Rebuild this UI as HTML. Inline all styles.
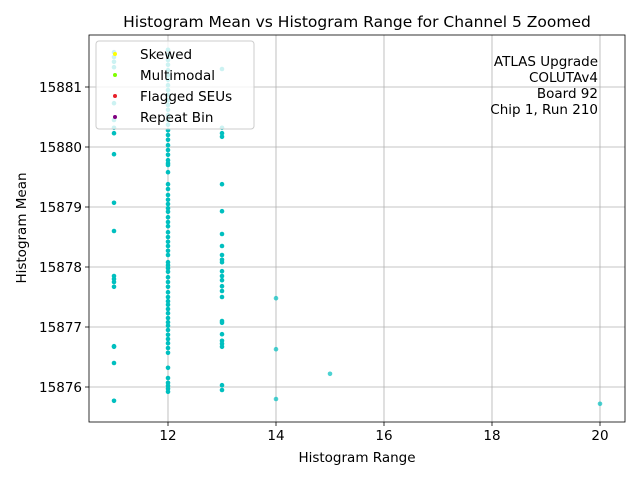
<!DOCTYPE html>
<html><head><meta charset="utf-8"><style>
body{margin:0;background:#fff;font-family:"Liberation Sans","DejaVu Sans",sans-serif}
svg text{font-family:"DejaVu Sans","Liberation Sans",sans-serif}
</style></head><body>
<svg id="c" width="640" height="480" xmlns="http://www.w3.org/2000/svg"></svg>
<script>
const xRange11=[15881.58,15881.50,15881.42,15881.33,15880.73,15880.45,15880.32,15880.23,15879.88,15879.07,15878.60,15877.85,15877.80,15877.75,15877.67,15876.68,15876.67,15876.40,15875.77];
const xRange12=[15881.62,15881.53,15881.45,15881.37,15881.28,15881.20,15881.12,15881.03,15880.95,15880.87,15880.78,15880.70,15880.62,15880.53,15880.45,15880.37,15880.28,15880.20,15880.12,15880.03,15879.95,15879.87,15879.78,15879.73,15879.70,15879.58,15879.38,15879.30,15879.20,15879.12,15879.05,15878.98,15878.92,15878.83,15878.75,15878.68,15878.58,15878.50,15878.42,15878.35,15878.27,15878.20,15878.08,15878.03,15877.98,15877.92,15877.83,15877.75,15877.67,15877.58,15877.50,15877.43,15877.37,15877.30,15877.23,15877.15,15877.08,15877.02,15876.95,15876.87,15876.80,15876.73,15876.65,15876.57,15876.32,15876.15,15876.07,15876.02,15875.97,15875.92];
const xRange13=[15881.30,15880.32,15880.23,15880.17,15879.38,15878.93,15878.55,15878.35,15878.20,15878.12,15878.08,15877.93,15877.85,15877.78,15877.68,15877.60,15877.50,15877.10,15877.07,15876.88,15876.77,15876.72,15876.67,15876.03,15875.95];
const xRange14=[15877.48,15876.63,15875.80];
const xRange15=[15876.22];
const xRange20=[15875.72];
const groups=[[11,xRange11],[12,xRange12],[13,xRange13],[14,xRange14],[15,xRange15],[20,xRange20]];
const xTicks=[12,14,16,18,20];
const yTicks=[15876,15877,15878,15879,15880,15881];
const legendLabels=["Skewed","Multimodal","Flagged SEUs","Repeat Bin"];
const legendColors=["#ffff00","#7fff00","#e8202a","#800080"];
const annotation=["ATLAS Upgrade","COLUTAv4","Board 92","Chip 1, Run 210"];

const L=89,R=625,T=35,B=422;
const sx=v=>168+(v-12)*54;
const sy=v=>87-(v-15881)*60;
const svg=document.getElementById('c');
const NS='http://www.w3.org/2000/svg';
function mk(t,a,p){const e=document.createElementNS(NS,t);for(const k in a)e.setAttribute(k,a[k]);(p||svg).appendChild(e);return e;}

xTicks.forEach(v=>{
 const g=mk('line',{x1:sx(v),x2:sx(v),y1:T,y2:B,stroke:'#b0b0b0','stroke-width':0.8});
 
 
 mk('line',{x1:sx(v),x2:sx(v),y1:B,y2:B+4,stroke:'#000','stroke-width':0.8});
 const t=mk('text',{x:sx(v),y:B+18,'text-anchor':'middle','font-size':13.5});
 t.textContent=v;
 
 
});
yTicks.forEach(v=>{
 const g=mk('line',{x1:L,x2:R,y1:sy(v),y2:sy(v),stroke:'#b0b0b0','stroke-width':0.8});
 
 
 mk('line',{x1:L-4,x2:L,y1:sy(v),y2:sy(v),stroke:'#000','stroke-width':0.8});
 const t=mk('text',{x:L-7,y:sy(v)+5,'text-anchor':'end','font-size':13.5});
 t.textContent=v;
 
 
});
groups.forEach(([x,arr])=>arr.forEach(v=>{
 const c=mk('circle',{cx:sx(x),cy:sy(v),r:2.3,fill:'#00bfbf',opacity:x>=14?0.7:1});
 
 
}));
const fr=mk('rect',{x:L,y:T,width:R-L,height:B-T,fill:'none',stroke:'#000','stroke-width':0.8});



const lg=mk('g',{});


mk('rect',{x:96,y:41,width:158,height:88,rx:3,fill:'#fff','fill-opacity':0.8,stroke:'#cccccc'},lg);
legendLabels.forEach((s,i)=>{
 const y=54+i*21;
 mk('circle',{cx:115,cy:y,r:2,fill:legendColors[i]},lg);
 const t=mk('text',{x:140,y:y+5,'font-size':13.5},lg);
 t.textContent=s;
 
 
});
annotation.forEach((s,i)=>{
 const t=mk('text',{x:598,y:66+i*16,'text-anchor':'end','font-size':13.5});
 t.textContent=s;
 
 
});
const ti=mk('text',{x:357,y:27,'text-anchor':'middle','font-size':15.5});
ti.textContent='Histogram Mean vs Histogram Range for Channel 5 Zoomed';


const xt=mk('text',{x:357,y:462,'text-anchor':'middle','font-size':13.5});
xt.textContent='Histogram Range';


const yt=mk('text',{x:0,y:0,'text-anchor':'middle','font-size':13.5,transform:'translate(26,228) rotate(-90)'});
yt.textContent='Histogram Mean';


</script>
</body></html>
